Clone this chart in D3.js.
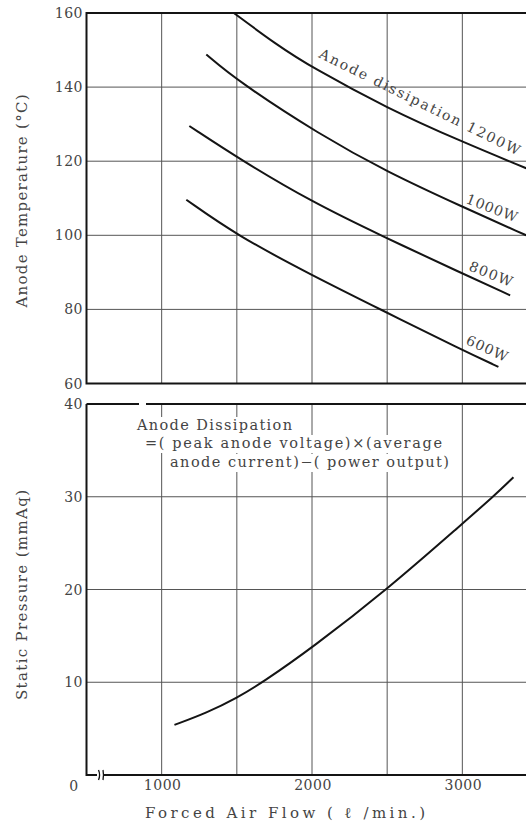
<!DOCTYPE html>
<html>
<head>
<meta charset="utf-8">
<script src="https://cdn.jsdelivr.net/npm/d3@7"></script>
<style>
  body { margin: 0; background: #fff; }
  svg { display: block; }
</style>
</head>
<body>
<svg id="chart" width="526" height="823" font-family="'DejaVu Serif', 'Liberation Serif', serif" fill="#444"></svg>
<script>
// data
const gridFlow = [1000, 1500, 2000, 2500, 3000, 3500];
const flowTicks = [1000, 2000, 3000];
const tempTicks = [60, 80, 100, 120, 140, 160];
const pressTicks = [10, 20, 30, 40];

const flow1200 = [1480, 1766, 2000, 2500, 3000, 3425];
const temp1200 = [160, 151.4, 145.3, 134.3, 125.2, 118.1];
const flow1000 = [1297, 1500, 2054, 2500, 3000, 3425];
const temp1000 = [148.8, 141.8, 127.1, 117.1, 107.7, 100];
const flow800 = [1184, 1540, 2000, 2455, 3000, 3318];
const temp800 = [129.5, 120, 109, 100, 89.7, 83.8];
const flow600 = [1164, 1500, 2000, 2455, 3000, 3240];
const temp600 = [109.6, 100, 89.2, 80, 69, 64.5];

const flowP = [1085, 1300, 1500, 1673, 2000, 2500, 3000, 3205, 3340];
const pressure = [5.4, 6.7, 8.3, 10, 13.7, 20, 27.1, 30, 32.1];

const series = [
  { name: "1200W", flow: flow1200, temp: temp1200 },
  { name: "1000W", flow: flow1000, temp: temp1000 },
  { name: "800W", flow: flow800, temp: temp800 },
  { name: "600W", flow: flow600, temp: temp600 }
];

const svg = d3.select("#chart");

const x = d3.scaleLinear().domain([500, 3500]).range([86.5, 537.5]);
const yT = d3.scaleLinear().domain([60, 160]).range([383.5, 13]);
const yP = d3.scaleLinear().domain([0, 40]).range([775, 404]);

const gridColor = "#555";
const ink = "#141414";

// 网格
function grid(yScale, ticks) {
  const [y0, y1] = yScale.range();
  svg.append("g").selectAll("line.v")
    .data(gridFlow)
    .enter().append("line")
    .attr("x1", d => x(d)).attr("x2", d => x(d))
    .attr("y1", y0).attr("y2", y1)
    .attr("stroke", gridColor).attr("stroke-width", 1);
  svg.append("g").selectAll("line.h")
    .data(ticks)
    .enter().append("line")
    .attr("x1", x(500)).attr("x2", 540)
    .attr("y1", d => yScale(d)).attr("y2", d => yScale(d))
    .attr("stroke", gridColor).attr("stroke-width", 1);
}
grid(yT, tempTicks.slice(1, -1));
grid(yP, pressTicks.slice(0, -1));

// annotation with white knock-out
const noteLines = [
  { t: "Anode Dissipation", x: 137, y: 430, len: 155 },
  { t: "=( peak anode voltage)×(average", x: 145, y: 448, len: 297 },
  { t: "anode current)−( power output)", x: 170, y: 467, len: 279 }
];
const note = svg.append("g");
const noteBg = note.append("g");
const noteTx = note.selectAll("text")
  .data(noteLines)
  .enter().append("text")
  .attr("x", d => d.x).attr("y", d => d.y)
  .attr("font-size", "14.5px")
  .attr("textLength", d => d.len)
  .attr("lengthAdjust", "spacing")
  .text(d => d.t);
noteTx.each(function() {
  const b = this.getBBox();
  noteBg.append("rect")
    .attr("x", b.x - 2).attr("y", b.y)
    .attr("width", b.width + 4).attr("height", b.height + 2)
    .attr("fill", "#fff");
});

// frames
const fr = svg.append("g").attr("fill", "none").attr("stroke", ink).attr("stroke-width", 2);
fr.append("path").attr("d", `M540,${yT(160)}H${x(500)}V${yT(60)}H540`);
fr.append("path").attr("d", `M${x(500)},${yP(40)}H139M146,${yP(40)}H540`);
fr.append("path").attr("d", `M${x(500)},${yP(40)}V${yP(0)}H97M104,${yP(0)}H540`);
fr.append("path").attr("stroke-width", 1.3)
  .attr("d", `M98.5,${yP(0) - 5}q2.2,5 0,10M103,${yP(0) - 5}q1,5 0,10`);

// curves
const line = d3.line().curve(d3.curveBasis);
const paths = {};
series.forEach(s => {
  const pts = s.flow.map((f, i) => [x(f), yT(s.temp[i])]);
  paths[s.name] = svg.append("path")
    .attr("d", line(pts))
    .attr("fill", "none").attr("stroke", ink).attr("stroke-width", 2);
});
svg.append("path")
  .attr("d", line(flowP.map((f, i) => [x(f), yP(pressure[i])])))
  .attr("fill", "none").attr("stroke", ink).attr("stroke-width", 2);

// curve labels, placed from points on the drawn curves
function pointAtX(node, px) {
  let lo = 0, hi = node.getTotalLength();
  for (let i = 0; i < 30; i++) {
    const mid = (lo + hi) / 2;
    if (node.getPointAtLength(mid).x < px) lo = mid; else hi = mid;
  }
  return node.getPointAtLength(lo);
}
const curveLabels = [
  { s: "1200W", t: "Anode dissipation 1200W", f1: 2040, f2: 3364, dy1: -13, dy2: -9 },
  { s: "1000W", t: "1000W", f1: 3018, f2: 3351, dy1: -5, dy2: -8 },
  { s: "800W", t: "800W", f1: 3038, f2: 3318, dy1: -6, dy2: -8.5 },
  { s: "600W", t: "600W", f1: 3018, f2: 3285, dy1: -7.5, dy2: -5 }
];
curveLabels.forEach(l => {
  const node = paths[l.s].node();
  const p1 = pointAtX(node, x(l.f1));
  const p2 = pointAtX(node, x(l.f2));
  const a = [x(l.f1), p1.y + l.dy1];
  const b = [x(l.f2), p2.y + l.dy2];
  const ang = Math.atan2(b[1] - a[1], b[0] - a[0]) * 180 / Math.PI;
  const len = Math.hypot(b[0] - a[0], b[1] - a[1]);
  svg.append("text")
    .attr("transform", `translate(${a[0]},${a[1]}) rotate(${ang})`)
    .attr("font-size", "14px")
    .attr("textLength", len)
    .attr("lengthAdjust", "spacing")
    .text(l.t);
});

// tick labels
const tick = svg.append("g").attr("font-size", "14px").attr("letter-spacing", "0.5px");
tick.selectAll("text.t")
  .data(tempTicks)
  .enter().append("text")
  .attr("x", 83).attr("y", d => yT(d)).attr("dy", "0.36em")
  .attr("text-anchor", "end")
  .text(d => d);
tick.selectAll("text.p")
  .data(pressTicks)
  .enter().append("text")
  .attr("x", 83).attr("y", d => yP(d)).attr("dy", "0.36em")
  .attr("text-anchor", "end")
  .text(d => d);
tick.selectAll("text.f")
  .data(flowTicks)
  .enter().append("text")
  .attr("x", d => x(d) + 1).attr("y", 790)
  .attr("text-anchor", "middle")
  .text(d => d);
tick.append("text").attr("x", 74).attr("y", 791).attr("text-anchor", "middle").text("0");

// axis titles
svg.append("text")
  .attr("x", 285).attr("y", 818)
  .attr("text-anchor", "middle")
  .attr("font-size", "15px")
  .attr("textLength", 280).attr("lengthAdjust", "spacing")
  .text("Forced Air Flow ( ℓ /min.)");

svg.append("text")
  .attr("transform", "translate(27,201) rotate(-90)")
  .attr("text-anchor", "middle")
  .attr("font-size", "15px")
  .attr("textLength", 213).attr("lengthAdjust", "spacing")
  .text("Anode Temperature (°C)");

svg.append("text")
  .attr("transform", "translate(27,595) rotate(-90)")
  .attr("text-anchor", "middle")
  .attr("font-size", "15px")
  .attr("textLength", 210).attr("lengthAdjust", "spacing")
  .text("Static Pressure (mmAq)");
</script>
</body>
</html>
